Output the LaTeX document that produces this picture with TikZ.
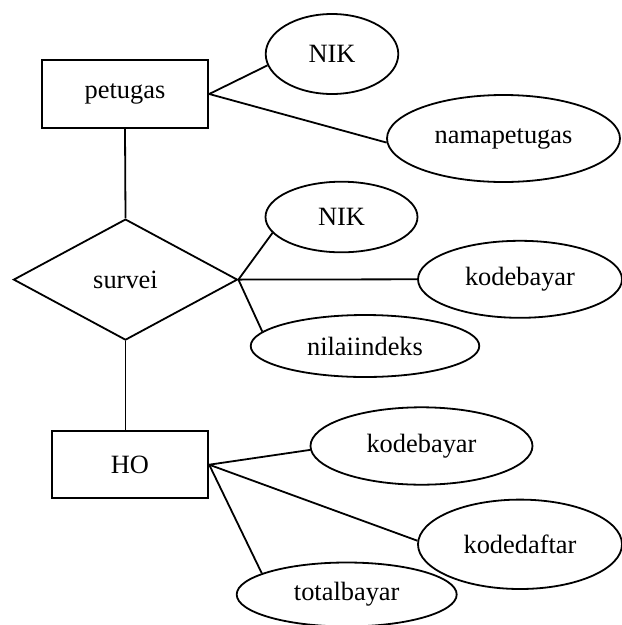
\documentclass[tikz,border=0pt]{standalone}
\usepackage{fontspec}
\setmainfont{Liberation Serif}
\usetikzlibrary{shapes.geometric}

\tikzset{
  er/.style={draw=black, line width=1.8pt, inner sep=0pt,
             font=\fontsize{26.4}{30}\selectfont},
  entity/.style={er, rectangle},
  relation/.style={er, diamond},
  attribute/.style={er, ellipse},
  link/.style={line width=1.8pt}
}

\begin{document}
\begin{tikzpicture}[x=1pt, y=-1pt]
  % canvas
  \fill[white] (0,0) rectangle (622,625);
  \useasboundingbox (0,0) rectangle (622,625);

  % entities and relationship
  \node[entity, minimum width=166.6pt, minimum height=68pt] (petugas) at (125,94) {petugas};
  \node[relation, minimum width=224pt, minimum height=121pt] (survei) at (125.5,279.6) {survei};
  \node[entity, minimum width=156.6pt, minimum height=66.7pt] (HO) at (130,464.7) {HO};

  % attributes of petugas
  \node[attribute, minimum width=132.6pt, minimum height=80pt] (nik1) at (332,54) {NIK};
  \node[attribute, minimum width=233pt, minimum height=87pt] (nama) at (503.5,138.5) {namapetugas};

  % attributes of survei
  \node[attribute, minimum width=152pt, minimum height=70.6pt] (nik2) at (341.5,217) {NIK};
  \node[attribute, minimum width=204pt, minimum height=77pt] (kb1) at (520,279.3) {kodebayar};
  \node[attribute, minimum width=228.6pt, minimum height=62pt] (nil) at (365,346) {nilaiindeks};

  % attributes of HO
  \node[attribute, minimum width=222pt, minimum height=77.4pt] (kb2) at (421.5,446) {kodebayar};
  \node[attribute, minimum width=204pt, minimum height=89.4pt] (kd) at (520,544.3) {kodedaftar};
  \node[attribute, minimum width=220pt, minimum height=64pt] (tb) at (346.7,594.5) {totalbayar};

  % connectors
  \draw[link] (petugas.south) -- (survei.north);
  \draw[link] (survei.south) -- (survei.south |- HO.north);

  \draw[link] (petugas.east) -- (nik1.190);
  \draw[link] (petugas.east) -- (nama.182);

  \draw[link] (survei.east) -- (nik2.193);
  \draw[link] (survei.east) -- (kb1.west);
  \draw[link] (survei.east) -- (nil.172);

  \draw[link] (HO.east) -- (kb2.182);
  \draw[link] (HO.east) -- (kd.178);
  \draw[link] (HO.east) -- (tb.166);
\end{tikzpicture}
\end{document}
